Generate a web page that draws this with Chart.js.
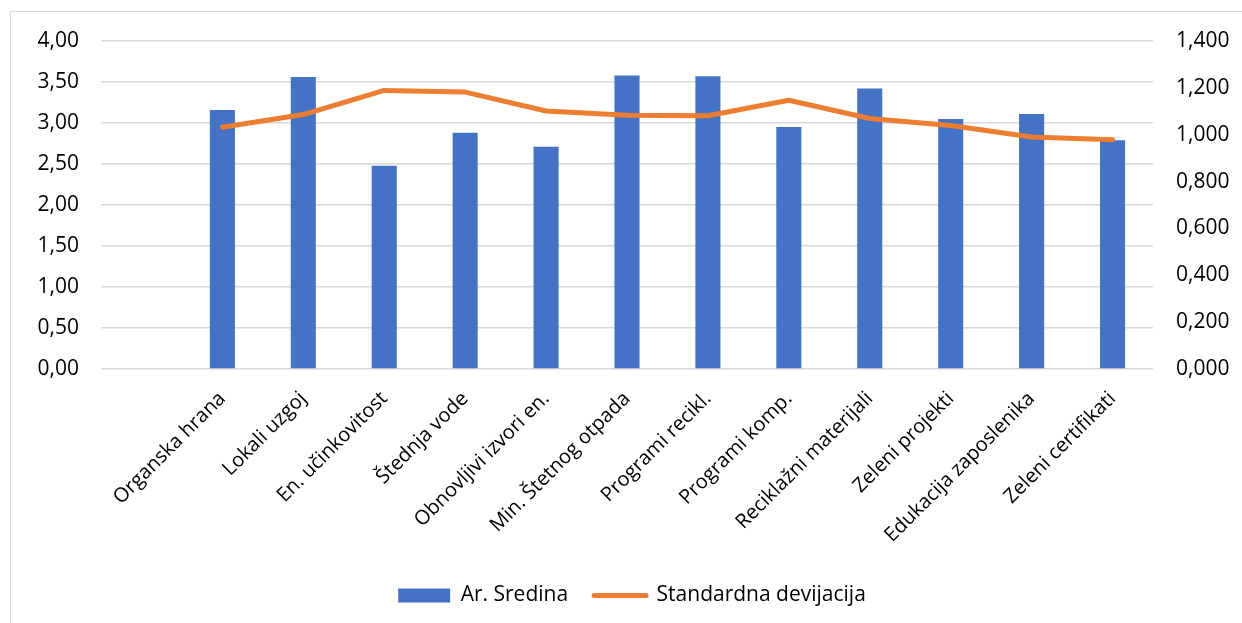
<!DOCTYPE html>
<html>
<head>
<meta charset="utf-8">
<script src="https://cdn.jsdelivr.net/npm/chart.js@4.4.1/dist/chart.umd.min.js"></script>
<style>
  html, body { margin: 0; padding: 0; background: #fff; overflow: hidden; }
  #frame { position: absolute; left: 10px; top: 11px; width: 1400px; height: 800px; border: 1px solid #d9d9d9; }
  #c { position: absolute; left: 0; top: 0; }
</style>
</head>
<body>
<div id="frame"></div>
<canvas id="c" width="1242" height="623"></canvas>
<script>
const categories = ['', 'Organska hrana', 'Lokali uzgoj', 'En. učinkovitost', 'Štednja vode', 'Obnovljivi izvori en.', 'Min. Štetnog otpada', 'Programi recikl.', 'Programi komp.', 'Reciklažni materijali', 'Zeleni projekti', 'Edukacija zaposlenika', 'Zeleni certifikati'];
const meanValues = [null, 3.16, 3.56, 2.48, 2.88, 2.71, 3.58, 3.57, 2.95, 3.42, 3.05, 3.11, 2.79];
const sdValues = [null, 1.032, 1.086, 1.189, 1.182, 1.101, 1.083, 1.081, 1.147, 1.069, 1.039, 0.990, 0.979];
const meanLabel = 'Ar. Sredina';
const sdLabel = 'Standardna devijacija';
const leftTicks = [0, 4, 0.5];
const rightTicks = [0, 1.4, 0.2];

Chart.defaults.font.family = "'Open Sans', sans-serif";
Chart.defaults.color = '#000';

new Chart(document.getElementById('c'), {
  data: {
    labels: categories,
    datasets: [
      {
        type: 'line', label: sdLabel, data: sdValues, yAxisID: 'y2',
        borderColor: '#ED7D31', backgroundColor: '#ED7D31', borderWidth: 5,
        pointRadius: 0, tension: 0, borderCapStyle: 'round', borderJoinStyle: 'round'
      },
      {
        type: 'bar', label: meanLabel, data: meanValues, yAxisID: 'y',
        backgroundColor: '#4472C4', borderWidth: 0,
        categoryPercentage: 1, barPercentage: 0.31
      }
    ]
  },
  options: {
    responsive: false, animation: false, devicePixelRatio: 1,
    layout: { padding: { left: 22, right: 0, top: 41, bottom: 7 } },
    plugins: {
      tooltip: { enabled: false },
      legend: {
        position: 'bottom',
        labels: {
          font: { size: 21 }, color: '#000', padding: 26,
          usePointStyle: true, pointStyleWidth: 52, boxHeight: 14,
          sort: (a, b) => b.datasetIndex - a.datasetIndex,
          generateLabels: (chart) => {
            const items = Chart.defaults.plugins.legend.labels.generateLabels(chart);
            items.forEach(it => {
              if (it.datasetIndex === 0) {
                it.pointStyle = 'line'; it.strokeStyle = '#ED7D31'; it.lineWidth = 5; it.lineCap = 'round';
              } else {
                it.pointStyle = 'rect'; it.fillStyle = '#4472C4'; it.lineWidth = 0; it.strokeStyle = '#4472C4';
              }
            });
            return items;
          }
        }
      }
    },
    scales: {
      x: {
        grid: { display: false, drawTicks: false }, border: { display: false },
        ticks: { autoSkip: false, minRotation: 45, maxRotation: 45, font: { size: 20 }, color: '#000', padding: 18 },
        afterFit: (s) => { s.height = 190; }
      },
      y: {
        position: 'left', min: leftTicks[0], max: leftTicks[1],
        ticks: { stepSize: leftTicks[2], font: { size: 21 }, color: '#000', padding: 22,
          callback: (v) => v.toFixed(2).replace('.', ',') },
        grid: { color: '#d9d9d9', lineWidth: 1.5, drawTicks: false }, border: { display: false },
        afterFit: (s) => { s.width = 79; }
      },
      y2: {
        position: 'right', min: rightTicks[0], max: rightTicks[1],
        ticks: { stepSize: rightTicks[2], font: { size: 21 }, color: '#000', padding: 23,
          callback: (v) => v.toFixed(3).replace('.', ',') },
        grid: { display: false, drawTicks: false }, border: { display: false },
        afterFit: (s) => { s.width = 89; }
      }
    }
  }
});
</script>
</body>
</html>
